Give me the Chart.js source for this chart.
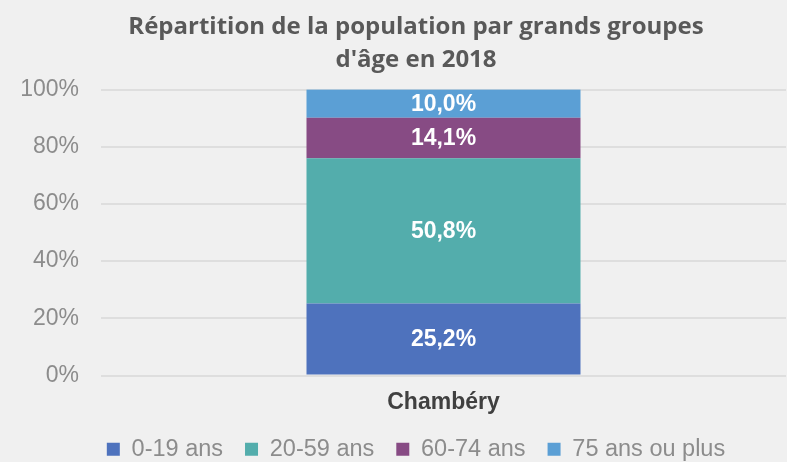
<!DOCTYPE html>
<html>
<head>
<meta charset="utf-8">
<script src="https://cdn.jsdelivr.net/npm/chart.js@4"></script>
<style>
    html, body { margin: 0; padding: 0; background: #f0f0f0; overflow: hidden; }
    #wrap { width: 832px; height: 462px; }
</style>
</head>
<body>
<div id="wrap"><canvas id="ageChart"></canvas></div>
<script>
// data
const categories = ['Chambéry'];
const groupLabels = ['0-19 ans', '20-59 ans', '60-74 ans', '75 ans ou plus'];
const groupValues = [[25.2], [50.8], [14.1], [10.0]];
const groupColors = ['#4e72bd', '#53adac', '#874b84', '#5b9fd5'];
const yTicks = [0, 20, 40, 60, 80, 100];

const FONT = '"Liberation Sans", Arial, sans-serif';

// writes the value in the middle of each bar segment
const segmentLabels = {
    id: 'segmentLabels',
    afterDatasetsDraw(chart) {
        const ctx = chart.ctx;
        ctx.save();
        ctx.font = 'bold 23px ' + FONT;
        ctx.fillStyle = '#ffffff';
        ctx.textAlign = 'center';
        ctx.textBaseline = 'middle';
        chart.data.datasets.forEach((ds, i) => {
            chart.getDatasetMeta(i).data.forEach((bar, j) => {
                const txt = ds.data[j].toFixed(1).replace('.', ',') + '%';
                ctx.fillText(txt, bar.x, (bar.y + bar.base) / 2 + 1);
            });
        });
        ctx.restore();
    }
};

const ctx = document.getElementById('ageChart').getContext('2d');
new Chart(ctx, {
    type: 'bar',
    data: {
        labels: categories,
        datasets: groupLabels.map((label, i) => ({
            label,
            data: groupValues[i],
            backgroundColor: groupColors[i],
            borderWidth: 0,
            categoryPercentage: 1,
            barPercentage: 0.4
        }))
    },
    options: {
        responsive: true,
        maintainAspectRatio: false,
        animation: false,
        layout: { padding: { left: 0, right: 0, top: 0, bottom: -9 } },
        scales: {
            x: {
                stacked: true,
                grid: { display: false, drawTicks: false },
                border: { display: false },
                ticks: {
                    color: '#404040',
                    padding: 13.5,
                    font: { family: FONT, size: 23, weight: 'bold' }
                },
                afterFit: s => { s.height = 40; }
            },
            y: {
                stacked: true,
                min: 0,
                max: 100,
                afterBuildTicks: axis => { axis.ticks = yTicks.map(v => ({ value: v })); },
                grid: { color: '#dedede', lineWidth: 2, drawTicks: false },
                border: { display: false },
                ticks: {
                    color: '#8c8c8c',
                    padding: 22,
                    font: { family: FONT, size: 23 },
                    callback: v => v + '%'
                },
                afterFit: s => { s.width = 101; }
            },
            // empty right axis, only keeps the plot clear of the cropped right edge
            yPad: {
                position: 'right',
                grid: { drawOnChartArea: false, drawTicks: false },
                border: { display: false },
                ticks: { display: false },
                afterFit: s => { s.width = 46; }
            }
        },
        plugins: {
            title: {
                display: true,
                text: ['Répartition de la population par grands groupes', "d'âge en 2018"],
                color: '#595959',
                font: { family: '"Open Sans", sans-serif', size: 24, weight: 'bold', lineHeight: 1.375 },
                padding: { top: 11, bottom: 12.5 }
            },
            legend: {
                position: 'bottom',
                labels: {
                    color: '#8c8c8c',
                    boxWidth: 13,
                    boxHeight: 13,
                    padding: 22,
                    font: { family: FONT, size: 23.5 }
                }
            },
            tooltip: { enabled: false }
        }
    },
    plugins: [segmentLabels]
});
</script>
</body>
</html>
